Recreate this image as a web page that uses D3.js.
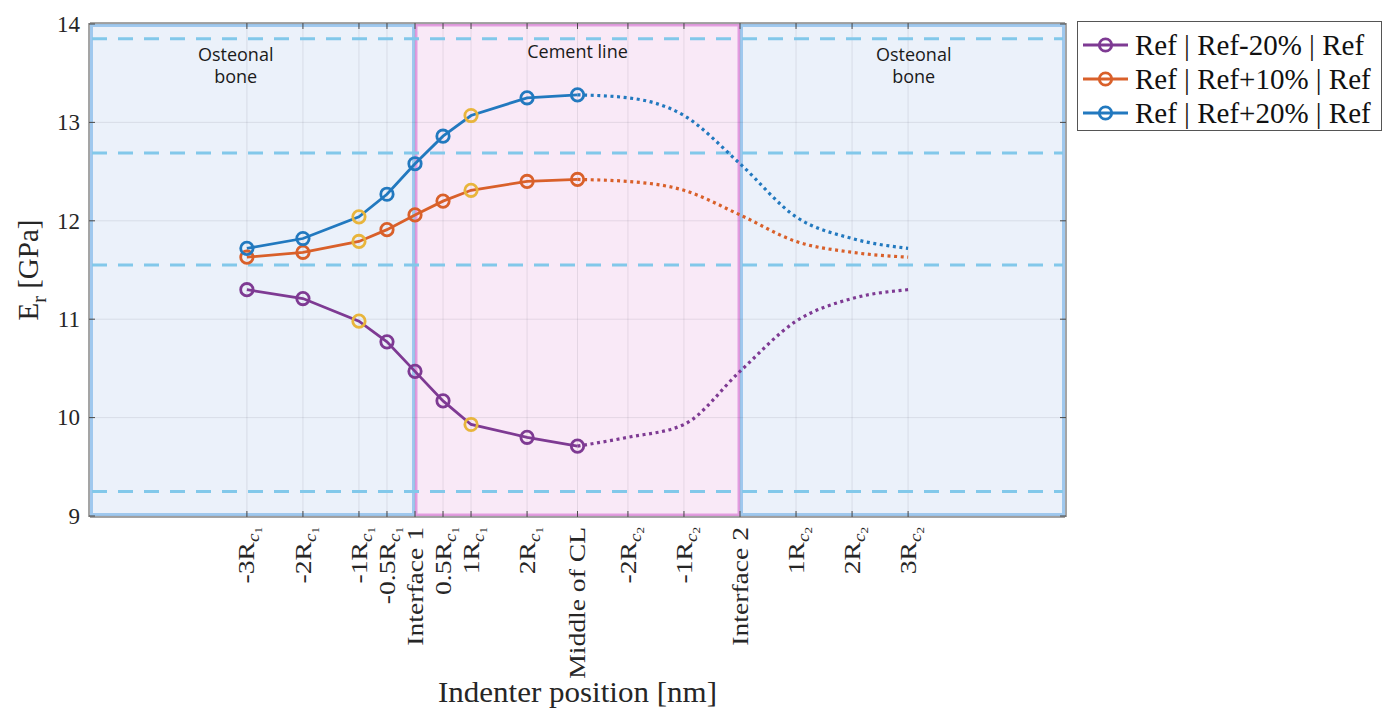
<!DOCTYPE html>
<html>
<head>
<meta charset="utf-8">
<script src="https://cdn.jsdelivr.net/npm/d3@7"></script>
<style>
  body { margin: 0; background: #ffffff; }
  svg { display: block; }
</style>
</head>
<body>
<svg id="chart" width="1383" height="709"></svg>
<script>
// ---- Axis definitions ----
const tickPositions = [-3, -2, -1, -0.5, 0, 0.5, 1, 2, 2.9, 3.8, 4.8, 5.8, 6.8, 7.8, 8.8];
const tickLabels = ["-3R_{c_1}", "-2R_{c_1}", "-1R_{c_1}", "-0.5R_{c_1}", "Interface 1",
  "0.5R_{c_1}", "1R_{c_1}", "2R_{c_1}", "Middle of CL", "-2R_{c_2}", "-1R_{c_2}",
  "Interface 2", "1R_{c_2}", "2R_{c_2}", "3R_{c_2}"];
const xDomain = [-5.8, 11.6];
const yTicks = [9, 10, 11, 12, 13, 14];
const yDomain = [9, 14];

// ---- Zones along the indenter path ----
const zoneBounds = [-5.8, 0, 5.8, 11.6];
const zoneNames = [["Osteonal", "bone"], ["Cement line"], ["Osteonal", "bone"]];
const zoneKinds = ["bone", "cement", "bone"];

// ---- Reference levels (dashed) ----
const refLevels = [13.85, 12.69, 11.55, 9.25];

// ---- Measured series (solid, osteon 1 side up to the middle of the CL) ----
const measuredPositions = [-3, -2, -1, -0.5, 0, 0.5, 1, 2, 2.9];
const erMinus20 = [11.30, 11.21, 10.98, 10.77, 10.47, 10.17, 9.93, 9.80, 9.71];
const erPlus10  = [11.63, 11.68, 11.79, 11.91, 12.06, 12.20, 12.31, 12.40, 12.42];
const erPlus20  = [11.72, 11.82, 12.04, 12.27, 12.58, 12.86, 13.07, 13.25, 13.28];

// ---- Mirrored continuation (dotted, middle of CL to osteon 2) ----
const mirrorPositions = [2.9, 3.8, 4.8, 5.8, 6.8, 7.8, 8.8];
const erMinus20Mirror = [9.71, 9.80, 9.93, 10.47, 10.98, 11.21, 11.30];
const erPlus10Mirror  = [12.42, 12.40, 12.31, 12.06, 11.79, 11.68, 11.63];
const erPlus20Mirror  = [13.28, 13.25, 13.07, 12.58, 12.04, 11.82, 11.72];

// positions whose markers are highlighted
const highlightPositions = [-1, 1];

const seriesNames = ["Ref | Ref-20% | Ref", "Ref | Ref+10% | Ref", "Ref | Ref+20% | Ref"];
const seriesColors = ["#7e3a93", "#d9602a", "#2279bf"];
const highlightColor = "#e8b53c";

const series = [
  { name: seriesNames[0], color: seriesColors[0], solid: erMinus20, dotted: erMinus20Mirror },
  { name: seriesNames[1], color: seriesColors[1], solid: erPlus10,  dotted: erPlus10Mirror },
  { name: seriesNames[2], color: seriesColors[2], solid: erPlus20,  dotted: erPlus20Mirror }
];

// ---- Layout ----
const svg = d3.select("#chart");
const plot = { left: 90, right: 1065, top: 24, bottom: 516 };
const x = d3.scaleLinear().domain(xDomain).range([plot.left, plot.right]);
const y = d3.scaleLinear().domain(yDomain).range([plot.bottom, plot.top]);
const serif = "'Liberation Serif', 'Times New Roman', serif";
const sans = "'Open Sans', 'Noto Sans', sans-serif";

// plot background
svg.append("rect")
  .attr("x", plot.left).attr("y", plot.top)
  .attr("width", plot.right - plot.left).attr("height", plot.bottom - plot.top)
  .attr("fill", "#ffffff");

// zones
const zoneStyle = {
  bone:   { fill: "#ebf1fa", stroke: "#9fc8ee", sw: 3 },
  cement: { fill: "#f9e9f7", stroke: "#e39de0", sw: 2.5 }
};
const zones = svg.append("g");
zoneKinds.forEach((k, i) => {
  const st = zoneStyle[k];
  const x0 = x(zoneBounds[i]), x1 = x(zoneBounds[i + 1]);
  zones.append("rect")
    .attr("x", x0 + st.sw / 2).attr("y", plot.top + st.sw / 2)
    .attr("width", x1 - x0 - st.sw).attr("height", plot.bottom - plot.top - st.sw)
    .attr("fill", st.fill).attr("stroke", st.stroke).attr("stroke-width", st.sw);
});

// grid
const grid = svg.append("g").attr("stroke", "rgba(60,60,80,0.11)").attr("stroke-width", 1);
tickPositions.forEach(t => {
  grid.append("line").attr("x1", x(t)).attr("x2", x(t))
    .attr("y1", plot.top).attr("y2", plot.bottom);
});
yTicks.forEach(t => {
  grid.append("line").attr("x1", plot.left).attr("x2", plot.right)
    .attr("y1", y(t)).attr("y2", y(t));
});

// dashed reference levels
svg.append("g").selectAll("line").data(refLevels).join("line")
  .attr("x1", plot.left + 2).attr("x2", plot.right - 2)
  .attr("y1", d => y(d)).attr("y2", d => y(d))
  .attr("stroke", "#82c8ea").attr("stroke-width", 3)
  .attr("stroke-dasharray", "15,11");

// axes box with inward ticks
const axisColor = "#4a4a4a";
const box = svg.append("g").attr("stroke", axisColor).attr("stroke-width", 1);
box.append("line").attr("x1", plot.left).attr("x2", plot.right).attr("y1", plot.top - 1).attr("y2", plot.top - 1);
box.append("line").attr("x1", plot.left).attr("x2", plot.right).attr("y1", plot.bottom + 1).attr("y2", plot.bottom + 1);
box.append("line").attr("x1", plot.left - 1).attr("x2", plot.left - 1).attr("y1", plot.top - 1).attr("y2", plot.bottom + 1);
box.append("line").attr("x1", plot.right + 1).attr("x2", plot.right + 1).attr("y1", plot.top - 1).attr("y2", plot.bottom + 1);
tickPositions.forEach(t => {
  box.append("line").attr("x1", x(t)).attr("x2", x(t)).attr("y1", plot.top - 1).attr("y2", plot.top + 5);
  box.append("line").attr("x1", x(t)).attr("x2", x(t)).attr("y1", plot.bottom + 1).attr("y2", plot.bottom - 5);
});
yTicks.forEach(t => {
  box.append("line").attr("x1", plot.left - 1).attr("x2", plot.left + 5).attr("y1", y(t)).attr("y2", y(t));
  box.append("line").attr("x1", plot.right + 1).attr("x2", plot.right - 5).attr("y1", y(t)).attr("y2", y(t));
});

// y axis labels
const yAxis = d3.axisLeft(y).tickValues(yTicks).tickSize(0).tickPadding(10).tickFormat(d3.format("d"));
const gy = svg.append("g").attr("transform", `translate(${plot.left},0)`).call(yAxis);
gy.select(".domain").remove();
gy.selectAll("text").attr("font-family", serif).attr("font-size", 23).attr("fill", "#262626");

// x tick labels, rotated, with LaTeX-like subscripts R_{c_n}
const xl = svg.append("g");
tickPositions.forEach((t, i) => {
  const lab = tickLabels[i];
  const g = xl.append("g")
    .attr("transform", `translate(${x(t)},${plot.bottom + 11}) rotate(-90) scale(1.2,1)`);
  const txt = g.append("text").attr("text-anchor", "end").attr("dy", "0.33em")
    .attr("font-family", serif).attr("font-size", 23).attr("fill", "#262626");
  const m = lab.match(/^(.*R)_\{c_(\d)\}$/);
  if (m) {
    txt.append("tspan").text(m[1]);
    txt.append("tspan").attr("font-style", "italic").attr("font-size", 16).attr("dy", 5).text("c");
    txt.append("tspan").attr("font-size", 11).attr("dy", 3).text(m[2]);
  } else {
    txt.text(lab);
  }
});

// axis titles
svg.append("text")
  .attr("x", (plot.left + plot.right) / 2).attr("y", 702)
  .attr("text-anchor", "middle").attr("font-family", serif).attr("font-size", 30)
  .attr("textLength", 279).attr("lengthAdjust", "spacingAndGlyphs")
  .attr("fill", "#262626").text("Indenter position [nm]");
const yt = svg.append("text")
  .attr("transform", `translate(38,${(plot.top + plot.bottom) / 2}) rotate(-90)`)
  .attr("text-anchor", "middle").attr("font-family", serif).attr("font-size", 29)
  .attr("fill", "#262626");
yt.append("tspan").text("E");
yt.append("tspan").attr("font-size", 20).attr("dy", 8).text("r");
yt.append("tspan").attr("dy", -8).text(" [GPa]");

// zone names
zoneNames.forEach((lines, i) => {
  const cx = i === 1 ? x(2.9) : (i === 0 ? x(-3.2) : x(8.9));
  const t = svg.append("text").attr("text-anchor", "middle")
    .attr("font-family", sans).attr("font-size", 18).attr("fill", "#1a1a1a");
  lines.forEach((ln, j) => {
    t.append("tspan").attr("x", cx).attr("y", (i === 1 ? 58 : 61) + j * 22).text(ln);
  });
});

// series lines
const line = d3.line().x(d => x(d[0])).y(d => y(d[1]));
const curved = d3.line().x(d => x(d[0])).y(d => y(d[1])).curve(d3.curveMonotoneX);
const lines = svg.append("g").attr("fill", "none");
series.forEach(s => {
  lines.append("path")
    .attr("d", curved(mirrorPositions.map((p, i) => [p, s.dotted[i]])))
    .attr("stroke", s.color).attr("stroke-width", 3.2)
    .attr("stroke-dasharray", "3,3.6");
  lines.append("path")
    .attr("d", line(measuredPositions.map((p, i) => [p, s.solid[i]])))
    .attr("stroke", s.color).attr("stroke-width", 2.8);
});

// markers
const marks = svg.append("g").attr("fill", "none").attr("stroke-width", 2.8);
series.forEach(s => {
  measuredPositions.forEach((p, i) => {
    marks.append("circle")
      .attr("cx", x(p)).attr("cy", y(s.solid[i])).attr("r", 6.2)
      .attr("stroke", highlightPositions.includes(p) ? highlightColor : s.color);
  });
});

// legend
const lg = svg.append("g").attr("transform", "translate(1077,21)");
lg.append("rect").attr("x", 0.5).attr("y", 0.5).attr("width", 304).attr("height", 109)
  .attr("fill", "#ffffff").attr("stroke", "#555555").attr("stroke-width", 1);
series.forEach((s, i) => {
  const cy = 24 + i * 34;
  lg.append("line").attr("x1", 6).attr("x2", 51).attr("y1", cy).attr("y2", cy)
    .attr("stroke", s.color).attr("stroke-width", 2.8);
  lg.append("circle").attr("cx", 28.5).attr("cy", cy).attr("r", 6.2)
    .attr("fill", "none").attr("stroke", s.color).attr("stroke-width", 2.8);
  lg.append("text").attr("x", 58).attr("y", cy).attr("dy", "0.34em")
    .attr("font-family", serif).attr("font-size", 29).attr("fill", "#111111")
    .text(s.name);
});
</script>
</body>
</html>
